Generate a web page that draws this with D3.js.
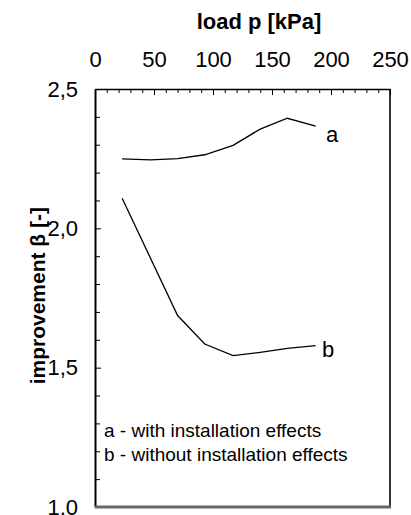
<!DOCTYPE html>
<html>
<head>
<meta charset="utf-8">
<script src="https://cdn.jsdelivr.net/npm/d3@7"></script>
<style>
  html, body { margin: 0; padding: 0; background: #fff; }
  svg { display: block; }
  svg text { font-family: Arial, "Liberation Sans", Helvetica, sans-serif; }
</style>
</head>
<body>
<svg id="chart" width="411" height="515"></svg>
<script>
// load steps [kPa]
const loadA = [23, 47, 70, 93, 117, 140, 163, 187];
const betaA = [2.249, 2.246, 2.250, 2.264, 2.298, 2.356, 2.395, 2.367];
const loadB = [23, 70, 93, 117, 140, 163, 187];
const betaB = [2.108, 1.687, 1.585, 1.543, 1.555, 1.569, 1.579];

const xTicks = [0, 50, 100, 150, 200, 250];
const yTicks = [1.0, 1.5, 2.0, 2.5];
const legendLines = ["a - with installation effects", "b - without installation effects"];

const svg = d3.select("#chart");
const x = d3.scaleLinear().domain([0, 250]).range([95, 390]);
const y = d3.scaleLinear().domain([1.0, 2.5]).range([507, 89]);
const fmt = v => d3.format(".1f")(v).replace(".", ",");

// minor ticks every 10 kPa / 0.1 on the top and left axes
const xMinor = d3.range(0, 251, 10).filter(v => v % 50 !== 0);
const yMinor = d3.range(10, 26).map(v => v / 10).filter(v => Math.round(v * 10) % 5 !== 0);

function plainAxis(g) {
  g.attr("font-family", null).attr("font-size", null);
  g.selectAll(".tick line").attr("stroke", "#000");
  g.selectAll("text").attr("fill", "#000").attr("font-size", 22);
}

svg.append("g").attr("transform", `translate(0,${y(2.5)})`)
  .call(d3.axisTop(x).tickValues(xMinor).tickSize(-4).tickFormat(""))
  .call(plainAxis)
  .call(g => g.select(".domain").remove());
svg.append("g").attr("transform", `translate(0,${y(2.5)})`)
  .call(d3.axisTop(x).tickValues(xTicks).tickSize(-6).tickSizeOuter(0).tickPadding(22).tickFormat(d3.format("d")))
  .call(plainAxis)
  .call(g => g.select(".domain").attr("stroke", "#000").attr("stroke-width", 1.6));

svg.append("g").attr("transform", `translate(${x(0)},0)`)
  .call(d3.axisLeft(y).tickValues(yMinor).tickSize(-5).tickFormat(""))
  .call(plainAxis)
  .call(g => g.select(".domain").remove());
svg.append("g").attr("transform", `translate(${x(0)},0)`)
  .call(d3.axisLeft(y).tickValues(yTicks).tickSize(-6).tickSizeOuter(0).tickPadding(17).tickFormat(fmt))
  .call(plainAxis)
  .call(g => g.select(".domain").attr("stroke", "#000").attr("stroke-width", 2));

// right and bottom frame
svg.append("line").attr("x1", x(250)).attr("x2", x(250)).attr("y1", y(2.5)).attr("y2", y(1.0) + 1)
  .attr("stroke", "#000").attr("stroke-width", 1.6);
svg.append("line").attr("x1", x(0)).attr("x2", x(250) + 1).attr("y1", y(1.0)).attr("y2", y(1.0))
  .attr("stroke", "#666").attr("stroke-width", 3);

// curves
const line = d3.line().x(d => x(d[0])).y(d => y(d[1]));
svg.append("path").datum(d3.zip(loadA, betaA)).attr("d", line)
  .attr("fill", "none").attr("stroke", "#000").attr("stroke-width", 1.3);
svg.append("path").datum(d3.zip(loadB, betaB)).attr("d", line)
  .attr("fill", "none").attr("stroke", "#000").attr("stroke-width", 1.3);

// curve labels
svg.append("text").attr("x", 326).attr("y", 141.5).attr("font-size", 22).text("a");
svg.append("text").attr("x", 322).attr("y", 356.5).attr("font-size", 22).text("b");

// legend
svg.selectAll(".legend").data(legendLines).join("text")
  .attr("class", "legend")
  .attr("x", 104).attr("y", (d, i) => 437 + i * 23.5)
  .attr("font-size", 19).text(d => d);

// axis titles
svg.append("text").attr("x", 259).attr("y", 29).attr("text-anchor", "middle")
  .attr("font-size", 22).attr("font-weight", "bold").text("load p [kPa]");
svg.append("text").attr("transform", "translate(45,207) rotate(-90)")
  .attr("text-anchor", "end").attr("font-size", 21).attr("font-weight", "bold")
  .text("improvement β [-]");
</script>
</body>
</html>
